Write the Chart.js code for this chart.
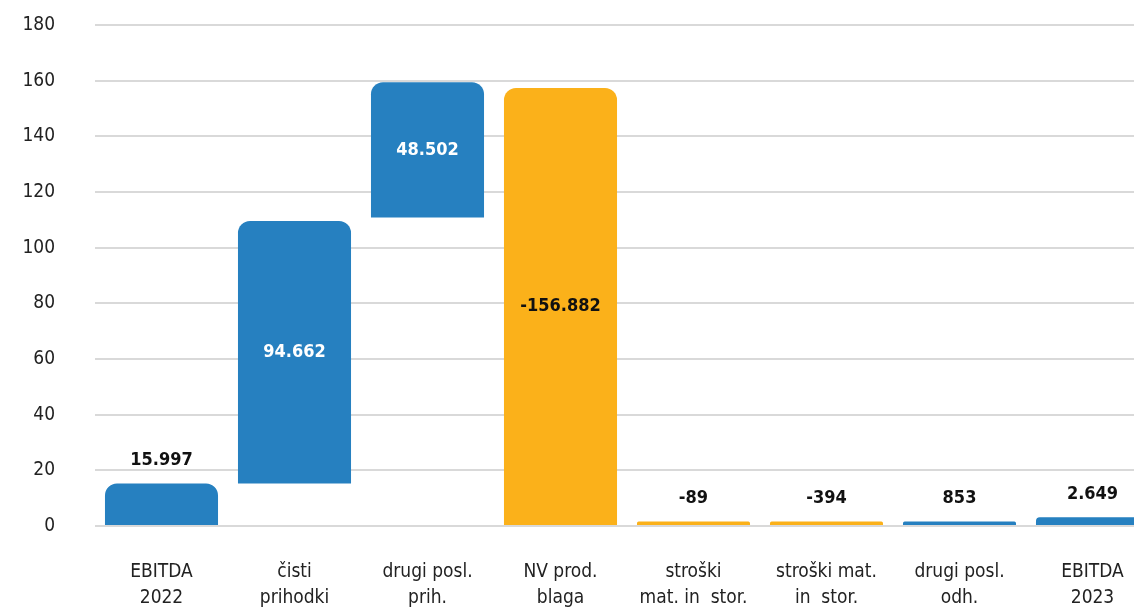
<!DOCTYPE html>
<html>
<head>
<meta charset="utf-8">
<script src="https://cdn.jsdelivr.net/npm/chart.js@4"></script>
<style>
  html, body { margin: 0; padding: 0; background: #fff; overflow: hidden; }
  #wrap { width: 1134px; height: 611px; overflow: hidden; }
</style>
</head>
<body>
<div id="wrap"><canvas id="waterfall" width="1160" height="611"></canvas></div>
<script>
// Categories (two-line labels)
const categories = [
  ['EBITDA', '2022'],
  ['čisti', 'prihodki'],
  ['drugi posl.', 'prih.'],
  ['NV prod.', 'blaga'],
  ['stroški', 'mat. in  stor.'],
  ['stroški mat.', 'in  stor.'],
  ['drugi posl.', 'odh.'],
  ['EBITDA', '2023']
];
// Bar bottoms and tops as drawn (in the axis units)
const barStart = [0, 15.3, 110.8, 0, 0, 0, 0, 0];
const barEnd = [15.3, 109.6, 159.4, 157.4, 1.6, 1.6, 1.6, 3.1];
// Printed values (thousands)
const changeValues = [15997, 94662, 48502, -156882, -89, -394, 853, 2649];
const yTicks = [0, 20, 40, 60, 80, 100, 120, 140, 160, 180];

const BLUE = '#2680c0';
const ORANGE = '#fbb11a';
const FONT = "'Liberation Sans Narrow', 'DejaVu Sans Condensed', 'Roboto Condensed', Roboto, sans-serif";

function fmt(v) {
  const s = Math.abs(v).toString().replace(/\B(?=(\d{3})+(?!\d))/g, '.');
  return (v < 0 ? '-' : '') + s;
}

// draws the value labels on or above the bars
const valueLabels = {
  id: 'valueLabels',
  afterDatasetsDraw(chart) {
    const ctx = chart.ctx;
    const meta = chart.getDatasetMeta(0);
    ctx.save();
    ctx.font = "bold 18px " + FONT;
    ctx.textAlign = 'center';
    ctx.textBaseline = 'middle';
    meta.data.forEach((bar, i) => {
      const top = Math.min(bar.y, bar.base);
      const bottom = Math.max(bar.y, bar.base);
      const h = bottom - top;
      if (h > 60) {
        ctx.fillStyle = changeValues[i] < 0 ? '#111' : '#fff';
        ctx.fillText(fmt(changeValues[i]), bar.x, (top + bottom) / 2);
      } else {
        ctx.fillStyle = '#111';
        ctx.fillText(fmt(changeValues[i]), bar.x, top - 23);
      }
    });
    ctx.restore();
  }
};

new Chart(document.getElementById('waterfall').getContext('2d'), {
  type: 'bar',
  data: {
    labels: categories,
    datasets: [{
      data: barStart.map((s, i) => [s, barEnd[i]]),
      backgroundColor: changeValues.map(v => v < 0 ? ORANGE : BLUE),
      borderWidth: 0,
      borderSkipped: false,
      borderRadius: { topLeft: 12, topRight: 12, bottomLeft: 0, bottomRight: 0 },
      categoryPercentage: 1,
      barPercentage: 0.85
    }]
  },
  options: {
    responsive: false,
    animation: false,
    devicePixelRatio: 1,
    layout: { padding: { top: 25, right: 1, left: 0, bottom: 0 } },
    plugins: {
      legend: { display: false },
      tooltip: { enabled: false }
    },
    scales: {
      x: {
        grid: { display: false, drawTicks: false },
        border: { display: false },
        ticks: {
          color: '#222',
          font: { family: FONT, size: 19, lineHeight: 1.37 },
          padding: 33,
          maxRotation: 0,
          autoSkip: false
        },
        afterFit(scale) { scale.height = 85; }
      },
      y: {
        min: 0,
        max: 180,
        afterBuildTicks(scale) { scale.ticks = yTicks.map(v => ({ value: v })); },
        grid: { color: '#d9d9d9', lineWidth: 2, drawTicks: false },
        border: { display: false },
        ticks: {
          color: '#222',
          font: { family: FONT, size: 19 },
          padding: 40
        },
        afterFit(scale) {
          scale.width = 95;
          scale.paddingTop = 0;
          scale.paddingBottom = 0;
        }
      }
    }
  },
  plugins: [valueLabels]
});
</script>
</body>
</html>
